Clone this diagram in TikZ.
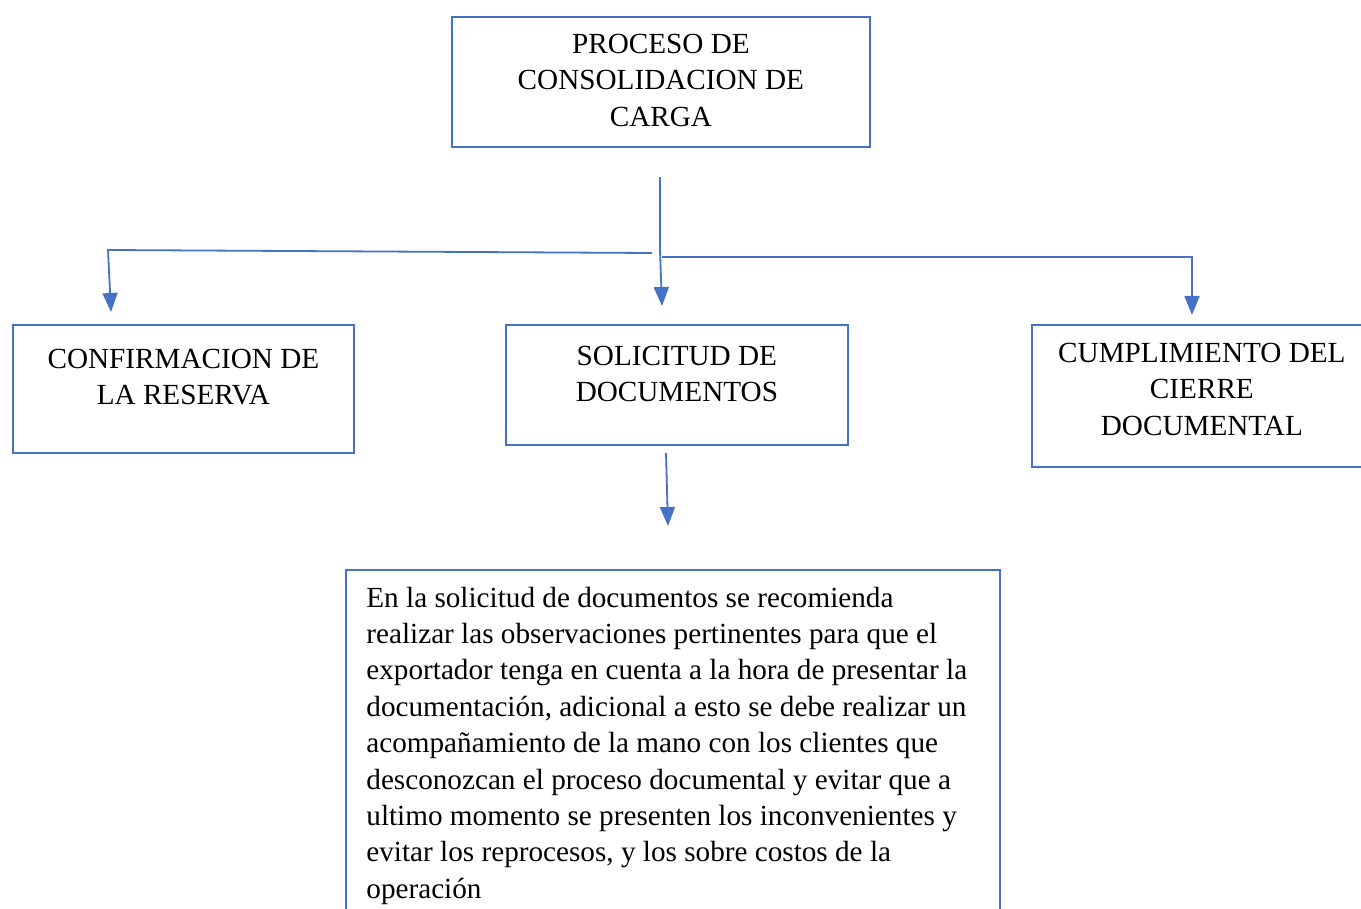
\documentclass[tikz,border=0pt]{standalone}
\usepackage{fontspec}
\setmainfont{Liberation Serif}
\usetikzlibrary{arrows.meta}
\definecolor{wblue}{HTML}{4472C4}
\newcommand\boxtxt[4]{\parbox[c][#2][t]{#1}{\vspace*{#3}\lineskiplimit=-100pt\relax#4}}
\tikzset{
  box/.style={draw=wblue, line width=1.8pt, inner sep=0pt, anchor=north west, fill=white},
  conn/.style={draw=wblue, line width=1.8pt},
  arr/.style={conn, -{Triangle[width=15pt,length=19pt]}},
}
\begin{document}
\begin{tikzpicture}[x=1pt,y=-1pt]
\useasboundingbox (0,0) rectangle (1361,909);
\fontsize{29.2}{36.4}\selectfont
\node[box] (top) at (451,16) {\boxtxt{418pt}{130pt}{17pt}{\centering PROCESO DE\\CONSOLIDACION DE\\CARGA\par}};
\node[box] (left) at (12,324) {\boxtxt{341pt}{128pt}{24pt}{\centering CONFIRMACION DE\\LA RESERVA\par}};
\node[box] (mid) at (505,324) {\boxtxt{342pt}{120pt}{21pt}{\centering SOLICITUD DE\\DOCUMENTOS\par}};
\node[box] (right) at (1031,324) {\boxtxt{340pt}{142pt}{18pt}{\centering CUMPLIMIENTO DEL\\CIERRE\\DOCUMENTAL\par}};
\node[box] (bot) at (345,569) {\boxtxt{654pt}{360pt}{17pt}{\hspace*{20.5pt}\parbox[t]{620pt}{\raggedright
En la solicitud de documentos se recomienda\\
realizar las observaciones pertinentes para que el\\
exportador tenga en cuenta a la hora de presentar la\\
documentación, adicional a esto se debe realizar un\\
acompañamiento de la mano con los clientes que\\
desconozcan el proceso documental y evitar que a\\
ultimo momento se presenten los inconvenientes y\\
evitar los reprocesos, y los sobre costos de la\\
operación\par}}};
% connectors
\coordinate (vtop) at (660,177);
\coordinate (vbot) at (660,255);
\coordinate (hlr) at (652,253);
\coordinate (hll) at (108,250);
\coordinate (la) at (111,312);
\coordinate (ms) at (660,250);
\coordinate (ma) at (662,306);
\coordinate (hrl) at (662,257);
\coordinate (hrr) at (1192,257);
\coordinate (ra) at (1192,315);
\coordinate (bs) at (666,453);
\coordinate (ba) at (668,526);
\draw[conn] (vtop) -- (vbot);
\draw[arr] (hlr) -- (hll) -- (la);
\draw[arr] (ms) -- (ma);
\draw[arr] (hrl) -- (hrr) -- (ra);
\draw[arr] (bs) -- (ba);
\end{tikzpicture}
\end{document}
